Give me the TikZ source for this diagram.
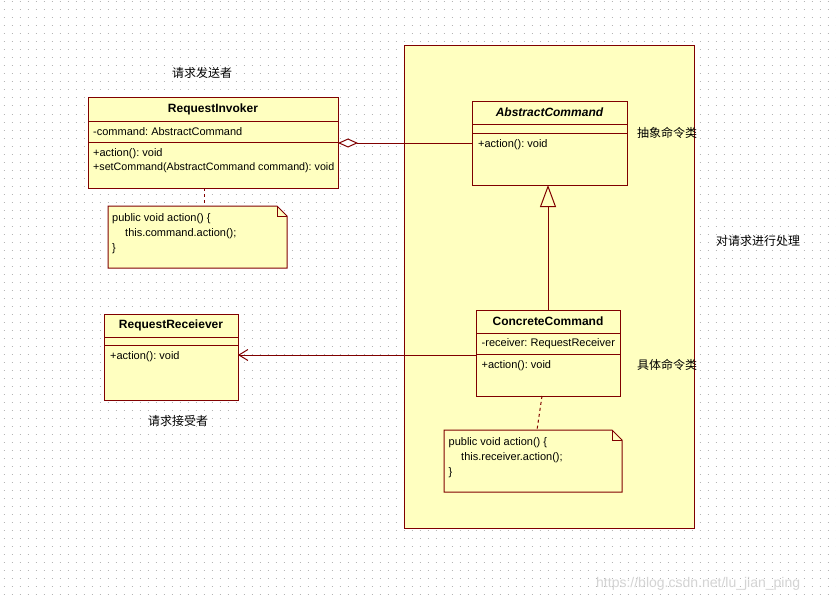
\documentclass[tikz,border=0pt]{standalone}
\usepackage{fontspec}
\setmainfont{Liberation Sans}
\newfontfamily\cjk{Noto Sans CJK SC}
\usetikzlibrary{arrows.meta}
\definecolor{umlfill}{RGB}{255,255,192}
\definecolor{umlline}{RGB}{128,0,0}
\definecolor{dotc}{RGB}{180,180,180}
\definecolor{wmark}{RGB}{212,212,212}
\begin{document}
\frenchspacing
\begin{tikzpicture}[x=1pt,y=-1pt,
  box/.style={draw=umlline, fill=umlfill, line width=1pt, anchor=north west, inner sep=0pt, outer sep=0pt},
  notearea/.style={draw=none, anchor=north west, inner sep=0pt, outer sep=0pt},
  txt/.style={anchor=base west, inner sep=0pt, font=\fontsize{11}{13}\selectfont\frenchspacing},
  ttl/.style={anchor=base, inner sep=0pt, font=\fontsize{12}{14}\selectfont\bfseries},
  zh/.style={inner sep=0pt, font=\fontsize{12}{14}\selectfont\cjk},
  conn/.style={draw=umlline, line width=1pt},
  sepline/.style={draw=umlline, line width=1pt},
  dashconn/.style={draw=umlline, line width=1pt, dash pattern=on 3pt off 3pt},
  notepath/.style={draw=umlline, fill=umlfill, line width=1pt},
]
\useasboundingbox (0,0) rectangle (836,602);
\fill[white] (0,0) rectangle (836,602);
\foreach \y in {2,10,...,602} \draw[dotc, line width=1pt, dash pattern=on 1pt off 7pt] (3.5,\y) -- (836,\y);

% package-like area
\node[box, minimum width=290pt, minimum height=482pt] (pkg) at (404,46) {};

% RequestInvoker
\node[box, minimum width=250pt, minimum height=90pt] (inv) at (88,98) {};
\draw[sepline] (88,121) -- (338,121);
\draw[sepline] (88,142) -- (338,142);
\node[ttl] (invT) at (213,113) {RequestInvoker};
\node[txt] (invA) at (93,135.5) {-command: AbstractCommand};
\node[txt] (invO1) at (93,156.5) {+action(): void};
\node[txt, font=\fontsize{10.7}{13}\selectfont\frenchspacing] (invO2) at (93,170) {+setCommand(AbstractCommand command): void};

% note 1
\node[notearea, minimum width=179pt, minimum height=62pt] (n1) at (108,206) {};
\path[notepath] (n1.north west) -- ([xshift=-10pt]n1.north east) -- ([yshift=-10pt]n1.north east) -- (n1.south east) -- (n1.south west) -- cycle;
\draw[sepline] ([xshift=-10pt]n1.north east) -- ([xshift=-10pt,yshift=-10pt]n1.north east) -- ([yshift=-10pt]n1.north east);
\node[txt] (n1a) at (112,221) {public void action() \{};
\node[txt] (n1b) at (125,236) {this.command.action();};
\node[txt] (n1c) at (112,251) {\}};

% AbstractCommand
\node[box, minimum width=155pt, minimum height=83pt] (abs) at (472,102) {};
\draw[sepline] (472,124) -- (627,124);
\draw[sepline] (472,133) -- (627,133);
\node[ttl, font=\fontsize{12}{14}\selectfont\bfseries\itshape] (absT) at (549.5,117) {AbstractCommand};
\node[txt] (absO) at (478,147.5) {+action(): void};

% ConcreteCommand
\node[box, minimum width=144pt, minimum height=86pt] (con) at (476,310) {};
\draw[sepline] (476,333) -- (620,333);
\draw[sepline] (476,354) -- (620,354);
\node[ttl] (conT) at (548,325) {ConcreteCommand};
\node[txt] (conA) at (481.5,346.5) {-receiver: RequestReceiver};
\node[txt] (conO) at (481.5,368.5) {+action(): void};

% note 2
\node[notearea, minimum width=178pt, minimum height=62pt] (n2) at (444,430) {};
\path[notepath] (n2.north west) -- ([xshift=-10pt]n2.north east) -- ([yshift=-10pt]n2.north east) -- (n2.south east) -- (n2.south west) -- cycle;
\draw[sepline] ([xshift=-10pt]n2.north east) -- ([xshift=-10pt,yshift=-10pt]n2.north east) -- ([yshift=-10pt]n2.north east);
\node[txt] (n2a) at (448.5,445) {public void action() \{};
\node[txt] (n2b) at (461,460) {this.receiver.action();};
\node[txt] (n2c) at (448.5,475) {\}};

% RequestReceiever
\node[box, minimum width=134pt, minimum height=86pt] (rcv) at (104,314) {};
\draw[sepline] (104,337) -- (238,337);
\draw[sepline] (104,345) -- (238,345);
\node[ttl] (rcvT) at (171,328.5) {RequestReceiever};
\node[txt] (rcvO) at (110,359.5) {+action(): void};

% connectors
\draw[conn, {Diamond[fill=white,length=20pt,width=9pt]}-] (inv.east |- 0,143) -- (abs.west |- 0,143);
\draw[conn, -{Triangle[length=22pt,width=16pt,fill=umlfill]}] (con.north -| 548,0) -- (abs.south -| 548,0);
\draw[conn, -{Straight Barb[length=9pt,width=11pt]}] (con.west |- 0,355) -- (rcv.east |- 0,355);
\draw[dashconn] (inv.south -| 204,0) -- (n1.north -| 204,0);
\draw[dashconn] (con.south -| 542,0) -- (n2.north -| 537,0);

% labels
\node[zh] (l1) at (202,73) {请求发送者};
\node[zh, anchor=west] (l2) at (637,133) {抽象命令类};
\node[zh, anchor=west] (l3) at (716,241) {对请求进行处理};
\node[zh, anchor=west] (l4) at (637,365) {具体命令类};
\node[zh] (l5) at (178,421) {请求接受者};

% watermark
\node[anchor=base west, inner sep=0pt, text=wmark, font=\fontsize{14}{16}\selectfont] (wm) at (596,587) {https://blog.csdn.net/lu\_jian\_ping};
\end{tikzpicture}
\end{document}
